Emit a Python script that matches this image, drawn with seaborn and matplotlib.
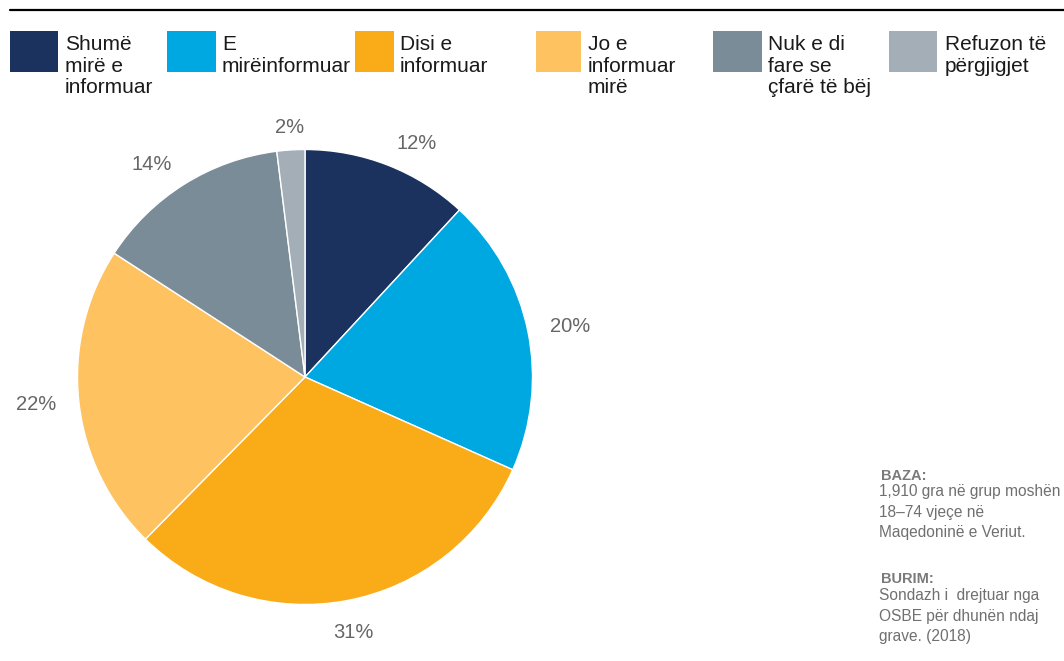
import matplotlib
matplotlib.use("Agg")
import matplotlib.pyplot as plt
import seaborn as sns
from matplotlib.patches import Rectangle
from matplotlib.lines import Line2D

# ---- data ----
categories = ["Shumë\nmirë e\ninformuar", "E\nmirëinformuar", "Disi e\ninformuar",
              "Jo e\ninformuar\nmirë", "Nuk e di\nfare se\nçfarë të bëj", "Refuzon të\npërgjigjet"]
values = [12, 20, 31, 22, 14, 2]
colors = ["#1B325E", "#00A8E1", "#FAAC18", "#FEC260", "#7A8C98", "#A3AEB7"]
note_baza_title = "BAZA:"
note_baza = ["1,910 gra në grup moshën", "18–74 vjeçe në", "Maqedoninë e Veriut."]
note_burim_title = "BURIM:"
note_burim = ["Sondazh i  drejtuar nga", "OSBE për dhunën ndaj", "grave. (2018)"]

sns.set_theme(style="white")
plt.rcParams['font.family'] = ['Liberation Sans', 'DejaVu Sans']

W, H = 1064, 661
fig = plt.figure(figsize=(W / 100, H / 100), dpi=100)
fig.patch.set_facecolor("white")

def fx(x):
    return x / W

def fy(y):
    return 1 - y / H

# top rule
fig.add_artist(Line2D([fx(10), 1.0], [fy(10), fy(10)], color="black", lw=1.6))

# pie axes: center (305, 377) px, radius 227.5 px
R = 227.5
L = 1.3
side = 2 * L * R
cx, cy = 305, 377
ax = fig.add_axes([fx(cx - side / 2), fy(cy + side / 2), side / W, side / H])
wedges, texts = ax.pie(values, colors=colors, startangle=90, counterclock=False,
                       labels=[f"{v}%" for v in values], labeldistance=1.1,
                       wedgeprops=dict(edgecolor="white", linewidth=1),
                       textprops=dict(fontsize=14.5, color="#666666"))
texts[2].set_ha("center")
px, py = texts[2].get_position()
texts[2].set_position((px * 1.04, py * 1.04))
texts[5].set_ha("center")
ax.set_xlim(-L, L)
ax.set_ylim(-L, L)
ax.axis("off")

# legend (manual, top row)
sq_x = [10, 167, 355, 536, 713, 889]
sq_w = [48, 49, 39, 45, 49, 48]
tx_x = [65, 222, 400, 588, 768, 945]
baselines = [50, 71.7, 93.3]
for i, lab in enumerate(categories):
    fig.add_artist(Rectangle((fx(sq_x[i]), fy(72)), sq_w[i] / W, 41 / H,
                             transform=fig.transFigure, facecolor=colors[i],
                             edgecolor="none"))
    for j, line in enumerate(lab.split("\n")):
        fig.text(fx(tx_x[i]), fy(baselines[j]), line, fontsize=15,
                 color="#1a1a1a", va="baseline", ha="left")

# notes
gray = "#707070"
fig.text(fx(881), fy(480), note_baza_title, fontsize=10.5, fontweight="bold",
         color="#7a7a7a", va="baseline")
for j, line in enumerate(note_baza):
    fig.text(fx(879), fy(496 + j * 20.7), line, fontsize=11.2, color=gray, va="baseline")
fig.text(fx(881), fy(582.7), note_burim_title, fontsize=10.5, fontweight="bold",
         color="#7a7a7a", va="baseline")
for j, line in enumerate(note_burim):
    fig.text(fx(879), fy(600 + j * 20.5), line, fontsize=11.2, color=gray, va="baseline")

fig.savefig("out.png", dpi=100)
